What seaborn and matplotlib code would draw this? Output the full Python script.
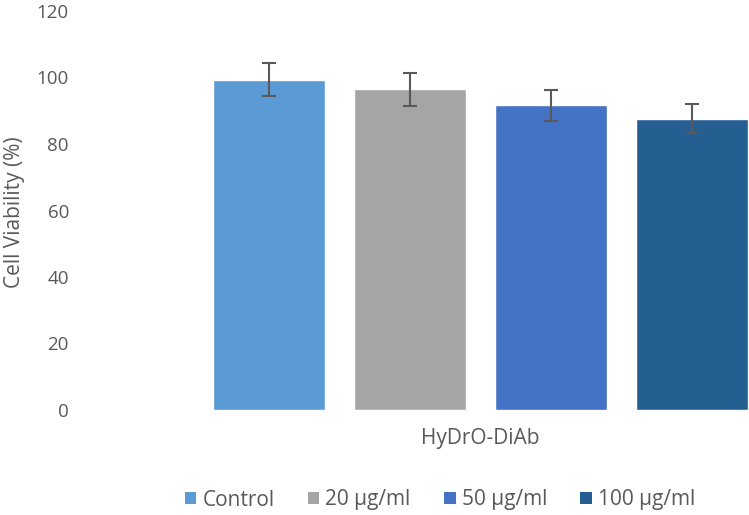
import matplotlib
matplotlib.use("Agg")
import matplotlib.pyplot as plt
import seaborn as sns
import pandas as pd
from matplotlib.patches import Patch

category = ["HyDrO-DiAb"]
groups = ["Control", "20 µg/ml", "50 µg/ml", "100 µg/ml"]
viability = [99.3, 96.4, 91.6, 87.6]
errors = [4.95, 5.0, 4.6, 4.35]
colors = ["#5B9BD5", "#A5A5A5", "#4472C4", "#255E91"]
yticks = [0, 20, 40, 60, 80, 100, 120]

sns.set_theme(style="white")
plt.rcParams["font.family"] = ["Open Sans", "DejaVu Sans"]

df = pd.DataFrame({"cat": category * len(groups), "group": groups, "val": viability})

W, H = 749, 515
fig = plt.figure(figsize=(W / 100, H / 100), dpi=100)
ax = fig.add_axes([80 / W, 1 - 410 / H, 669 / W, 399 / H])

sns.barplot(data=df, x="cat", y="val", hue="group", hue_order=groups,
            palette=colors, width=0.8, gap=0.206, errorbar=None,
            saturation=1, ax=ax, legend=False)

for p, v, e in zip(ax.patches, viability, errors):
    cx = p.get_x() + p.get_width() / 2
    ax.errorbar(cx, v, yerr=e, color="#595959", capsize=4.7, elinewidth=1.5,
                capthick=1.5, fmt="none", zorder=5)

ax.set_ylim(0, 120)
ax.set_yticks(yticks)
ax.set_xlim(-(480.5 - 80) / 705, (749 - 480.5) / 705)
for s in ax.spines.values():
    s.set_visible(False)
ax.tick_params(axis="both", length=0, labelcolor="#595959")
ax.tick_params(axis="y", pad=8, labelsize=13.5)
ax.tick_params(axis="x", pad=13, labelsize=15)
ax.set_xlabel("")
ax.set_ylabel("")
fig.text(15 / W, 1 - 212 / H, "Cell Viability (%)", rotation=90, ha="center",
         va="center", fontsize=15, color="#595959")

handles = [Patch(facecolor=c, edgecolor="none") for c in colors]
fig.legend(handles, groups, loc="center", bbox_to_anchor=(440 / W, 1 - 500 / H),
           ncol=4, frameon=False, fontsize=15, handlelength=0.55, handleheight=0.55,
           handletextpad=0.3, columnspacing=1.6, labelcolor="#595959",
           borderpad=0, borderaxespad=0)

fig.savefig("out.png", dpi=100)
